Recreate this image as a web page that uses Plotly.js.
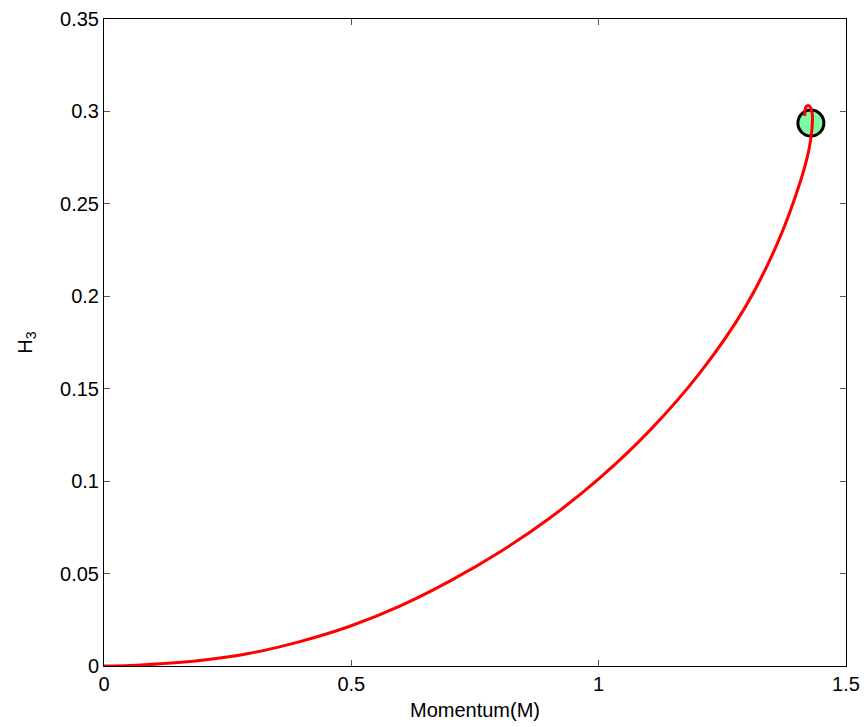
<!DOCTYPE html>
<html>
<head>
<meta charset="utf-8">
<script src="https://cdn.plot.ly/plotly-3.0.1.min.js"></script>
<style>html,body{margin:0;padding:0;background:#fff;}#chart{width:864px;height:727px;}</style>
</head>
<body>
<div id="chart"></div>
<script>
// Trajectory
var momentum = [0, 0.053, 0.113, 0.194, 0.295, 0.396, 0.497, 0.598, 0.699, 0.801, 0.902, 1.003, 1.104, 1.205, 1.296, 1.363, 1.409, 1.425, 1.431, 1.432, 1.429, 1.424, 1.419, 1.417, 1.417];
var h3 = [0, 0.0003, 0.0012, 0.0030, 0.0069, 0.0132, 0.0215, 0.0324, 0.0459, 0.0618, 0.0802, 0.1019, 0.1276, 0.1587, 0.1940, 0.2297, 0.2632, 0.2792, 0.2900, 0.2981, 0.3019, 0.3032, 0.3024, 0.3004, 0.2976];
// Marked point
var pointX = [1.429];
var pointY = [0.2937];
// Ticks
var xTicks = [0, 0.5, 1, 1.5];
var xTickText = ["0", "0.5", "1", "1.5"];
var yTicks = [0, 0.05, 0.1, 0.15, 0.2, 0.25, 0.3, 0.35];
var yTickText = ["0", "0.05", "0.1", "0.15", "0.2", "0.25", "0.3", "0.35"];

var FONT = 'Liberation Sans, Arial, Helvetica, sans-serif';

var traces = [
  {x: pointX, y: pointY, type: 'scatter', mode: 'markers',
   marker: {size: 26, color: 'rgb(128,250,165)', line: {color: '#000', width: 3}},
   hoverinfo: 'skip', showlegend: false},
  {x: momentum, y: h3, type: 'scatter', mode: 'lines',
   line: {color: '#ff0000', width: 3, shape: 'spline', smoothing: 1},
   showlegend: false}
];

var axisCommon = {
  showgrid: false, zeroline: false, showline: true, linecolor: '#000', linewidth: 1,
  mirror: 'ticks', ticks: 'inside', ticklen: 6, tickcolor: '#555', tickwidth: 1,
  tickfont: {family: FONT, size: 20, color: '#000'}
};

var layout = {
  width: 864, height: 727,
  margin: {l: 104, r: 18, t: 19, b: 61},
  paper_bgcolor: '#fff', plot_bgcolor: '#fff',
  xaxis: Object.assign({}, axisCommon, {
    range: [0, 1.5], tickvals: xTicks, ticktext: xTickText,
    title: {text: 'Momentum(M)', font: {family: FONT, size: 20, color: '#000'}, standoff: 8}
  }),
  yaxis: Object.assign({}, axisCommon, {
    range: [0, 0.35], tickvals: yTicks, ticktext: yTickText,
    title: {text: 'H<sub>3</sub>', font: {family: FONT, size: 20, color: '#000'}, standoff: 22}
  })
};

Plotly.newPlot('chart', traces, layout, {displayModeBar: false, staticPlot: true});
</script>
</body>
</html>
